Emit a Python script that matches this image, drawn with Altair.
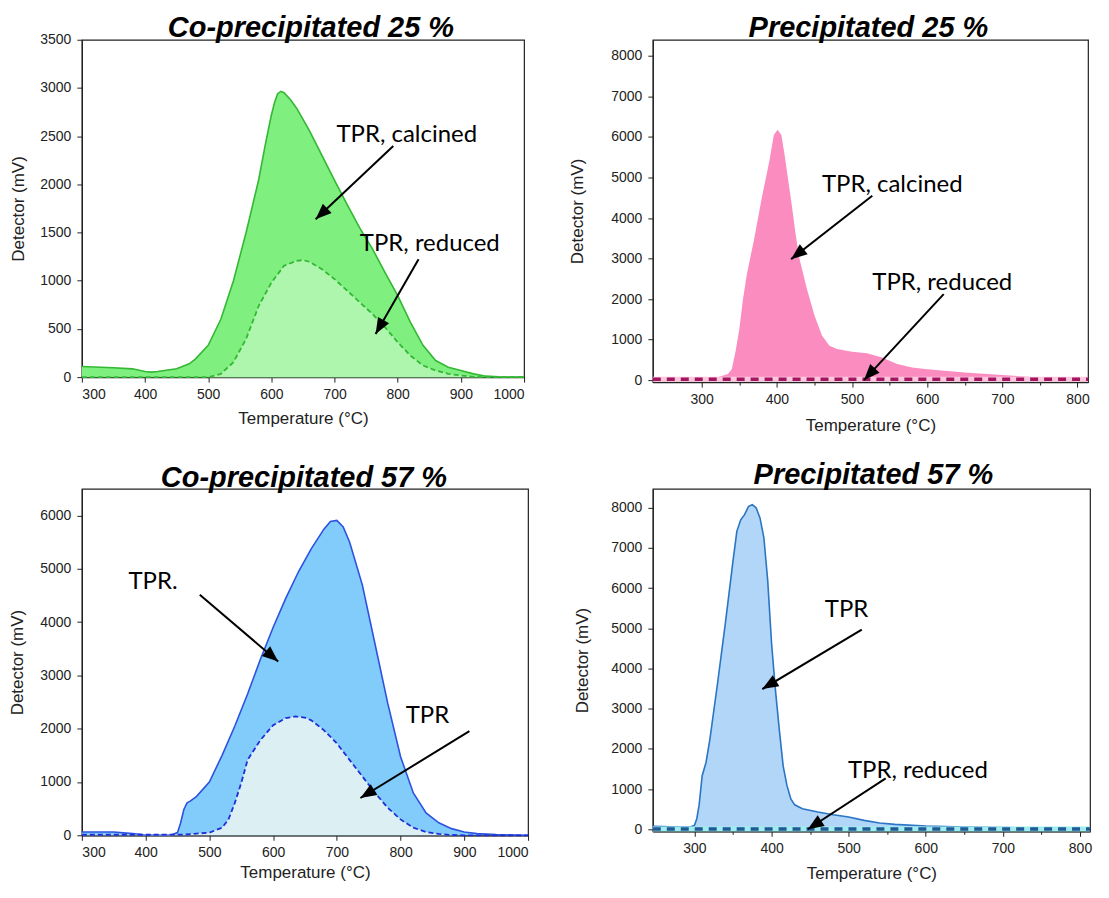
import math
import altair as alt
import pandas as pd

# ---------------- data ----------------
# Panel A: Co-precipitated 25 %
A_T_CAL = [300, 350, 380, 400, 410, 420, 450, 470, 480, 500, 520, 540, 560, 580, 590, 600, 605, 610, 615, 620,
           630, 640, 660, 680, 700, 720, 740, 760, 780, 800, 820, 840, 860, 880, 900, 920, 940, 960, 1000]
A_CAL = [110, 97, 86, 59, 52, 59, 86, 138, 190, 330, 600, 1000, 1500, 2050, 2400, 2720, 2850, 2940, 2965, 2950,
         2880, 2790, 2560, 2300, 2040, 1790, 1545, 1330, 1085, 845, 570, 330, 172, 103, 69, 34, 10, 3, 0]
A_T_RED = [300, 400, 500, 520, 540, 560, 580, 600, 620, 640, 650, 660, 680, 700, 720, 740, 760, 780, 800, 820,
           840, 860, 880, 900, 920, 940, 1000]
A_RED = [0, 0, 0, 34, 155, 397, 740, 980, 1155, 1207, 1214, 1197, 1120, 1017, 897, 776, 655, 517, 362, 224,
         121, 69, 34, 17, 3, 0, 0]

# Panel B: Precipitated 25 %
B_T_CAL = [235, 300, 320, 335, 340, 345, 350, 355, 360, 370, 380, 390, 396, 401, 406, 410, 415, 420, 425, 430,
           440, 450, 460, 470, 480, 500, 520, 540, 560, 580, 600, 650, 700, 750, 800, 814]
B_CAL = [25, 50, 66, 150, 270, 700, 1250, 2000, 2600, 3500, 4500, 5400, 6050, 6180, 6050, 5600, 4950, 4300, 3600, 3000,
         2250, 1600, 1100, 850, 770, 700, 660, 560, 395, 310, 270, 190, 125, 65, 50, 50]
B_T_RED = [235, 300, 400, 500, 600, 700, 814]
B_RED = [20, 20, 20, 20, 20, 20, 20]

# Panel C: Co-precipitated 57 %
C_T_CAL = [300, 350, 380, 400, 440, 450, 455, 460, 465, 470, 480, 500, 520, 540, 560, 580, 600, 620, 640, 660,
           680, 690, 700, 710, 720, 740, 760, 780, 800, 820, 840, 860, 880, 900, 920, 950, 1000]
C_CAL = [62, 62, 31, 6, 6, 50, 235, 484, 608, 640, 730, 1000, 1500, 2050, 2650, 3300, 3900, 4450, 4950, 5380,
         5750, 5890, 5910, 5785, 5505, 4700, 3585, 2470, 1475, 795, 420, 235, 125, 62, 31, 12, 0]
C_T_RED = [300, 400, 460, 480, 500, 520, 530, 540, 550, 560, 580, 600, 620, 635, 650, 660, 680, 700, 720, 740,
           760, 780, 800, 820, 840, 860, 880, 900, 1000]
C_RED = [10, 10, 12, 31, 50, 143, 298, 608, 980, 1415, 1785, 2065, 2200, 2230, 2207, 2157, 1970, 1725, 1415, 1105,
         795, 515, 298, 143, 62, 25, 6, 0, 0]

# Panel D: Precipitated 57 %
D_T_CAL = [246, 280, 295, 300, 303, 306, 310, 315, 320, 330, 340, 350, 355, 360, 365, 370, 375, 380, 385, 390,
           395, 400, 405, 410, 415, 420, 425, 430, 440, 460, 480, 500, 520, 540, 560, 600, 650, 700, 750, 800, 813]
D_CAL = [74, 58, 58, 99, 263, 593, 1333, 1663, 2240, 3640, 5120, 6680, 7420, 7700, 7830, 8030, 8080, 8000, 7750, 7260,
         6190, 4630, 3470, 2485, 1580, 1085, 757, 609, 510, 428, 362, 305, 222, 156, 123, 82, 58, 41, 33, 33, 33]
D_T_RED = [246, 300, 400, 500, 600, 700, 813]
D_RED = [10, 10, 10, 10, 10, 10, 10]

# annotation labels (text, T at left edge, mV at middle)
A_NOTES = [("TPR, calcined", 703, 2510), ("TPR, reduced", 740, 1380)]
B_NOTES = [("TPR, calcined", 460, 4810), ("TPR, reduced", 527, 2390)]
C_NOTES = [("TPR.", 373, 4760), ("TPR", 808, 2230)]
D_NOTES = [("TPR", 469, 5460), ("TPR, reduced", 499, 1460)]

# arrows (T start, mV start, T tip, mV tip)
A_ARROWS = [(793, 2397, 670, 1638), (833, 1224, 765, 448)]
B_ARROWS = [(527, 4548, 419, 2985), (622, 2122, 516, 0)]
C_ARROWS = [(485, 4513, 608, 3261), (908, 1953, 737, 700)]
D_ARROWS = [(517, 4971, 388, 3490), (548, 1267, 447, 0)]

# axis tick values (major + minor), each list starting on a labelled major tick
A_XTICKS = list(range(300, 1001, 50))
A_YTICKS = list(range(0, 3501, 250))
B_XTICKS = list(range(300, 801, 50))
B_YTICKS = list(range(0, 8001, 500))
C_XTICKS = list(range(300, 1001, 50))
C_YTICKS = list(range(0, 6501, 500))
D_XTICKS = list(range(300, 801, 50))
D_YTICKS = list(range(0, 8001, 500))

HEAD = "M0,0 L-0.8,2 L0.8,2 Z"


def make_axis(values, major, tx, ty, pad):
    return alt.Axis(
        values=values,
        format="d",
        labelExpr=f"datum.value % {major} === 0 ? datum.label : ''",
        tickSize={"condition": {"test": f"datum.value % {major} === 0", "value": 5}, "value": 3},
        labelOverlap=False,
        labelPadding=pad,
        grid=False,
        titleX=tx,
        titleY=ty,
    )


def panel(title, tdx, toff, T_cal, cal, T_red, red, xdom, ydom, xticks, yticks, xmaj, ymaj, w, h,
          cal_fill, cal_line, red_fill, red_line, red_style, notes, arrows, ytx, xty):
    xs = alt.Scale(domain=xdom, nice=False, zero=False)
    ys = alt.Scale(domain=ydom, nice=False, zero=False)
    xt = "Temperature (°C)"
    yt = "Detector (mV)"
    cal_df = pd.DataFrame({"T": T_cal, "v": cal})
    red_df = pd.DataFrame({"T": T_red, "v": red})

    base_x = alt.X("T:Q", scale=xs, title=xt, axis=make_axis(xticks, xmaj, w / 2, xty, 5))
    base_y = alt.Y("v:Q", scale=ys, title=yt, axis=make_axis(yticks, ymaj, ytx, h / 2, 6))
    nx = alt.X("T:Q", title=xt)
    ny = alt.Y("v:Q", title=yt)

    layers = []
    layers.append(alt.Chart(cal_df).mark_area(color=cal_fill, opacity=1).encode(
        x=base_x, y=base_y, y2=alt.datum(0)))
    if cal_line:
        layers.append(alt.Chart(cal_df).mark_line(color=cal_line, strokeWidth=1.6).encode(x=nx, y=ny))
    if red_style == "area":
        layers.append(alt.Chart(red_df).mark_area(color=red_fill, opacity=1).encode(
            x=nx, y=ny, y2=alt.datum(0)))
        layers.append(alt.Chart(red_df).mark_line(color=red_line, strokeWidth=1.8,
                                                  strokeDash=[5, 3]).encode(x=nx, y=ny))
    else:
        layers.append(alt.Chart(red_df).mark_line(color=red_fill, strokeWidth=5).encode(x=nx, y=ny))
        layers.append(alt.Chart(red_df).mark_line(color=red_line, strokeWidth=3.5,
                                                  strokeDash=[8, 6]).encode(x=nx, y=ny))

    pxT = w / (xdom[1] - xdom[0])
    pxV = h / (ydom[1] - ydom[0])
    arr = []
    for (x0, y0, x1, y1) in arrows:
        dx = (x1 - x0) * pxT
        dy = -(y1 - y0) * pxV
        ang = math.degrees(math.atan2(dx, -dy)) % 360
        arr.append({"x0": x0, "y0": y0, "x1": x1, "y1": y1, "ang": ang})
    arr_df = pd.DataFrame(arr)
    layers.append(alt.Chart(arr_df).mark_rule(color="black", strokeWidth=2).encode(
        x=alt.X("x0:Q", title=xt),
        y=alt.Y("y0:Q", title=yt),
        x2="x1:Q", y2="y1:Q"))
    layers.append(alt.Chart(arr_df).mark_point(shape=HEAD, filled=True, color="black", opacity=1,
                                               size=256, strokeWidth=0).encode(
        x=alt.X("x1:Q", title=xt),
        y=alt.Y("y1:Q", title=yt),
        angle=alt.Angle("ang:Q", scale=None)))
    note_df = pd.DataFrame(notes, columns=["label", "tx", "ty"])
    layers.append(alt.Chart(note_df).mark_text(align="left", baseline="middle", font="Lato",
                                               fontSize=24, color="black").encode(
        x=alt.X("tx:Q", title=xt),
        y=alt.Y("ty:Q", title=yt),
        text="label:N"))

    return alt.layer(*layers).properties(
        width=w, height=h,
        title=alt.TitleParams(title, font="Liberation Sans", fontSize=29, fontWeight="bold",
                              fontStyle="italic", color="black", anchor="middle", offset=toff,
                              dx=tdx))


pA = panel("Co-precipitated 25 %", 8, -10, A_T_CAL, A_CAL, A_T_RED, A_RED, [300, 1000], [0, 3500],
           A_XTICKS, A_YTICKS, 100, 500, 443, 338,
           "#7FEF7F", "#33B833", "#AEF6AE", "#33B833", "area", A_NOTES, A_ARROWS, -54, 33)
pB = panel("Precipitated 25 %", -2, -3, B_T_CAL, B_CAL, B_T_RED, B_RED, [235, 814], [-50, 8400],
           B_XTICKS, B_YTICKS, 100, 1000, 436, 343,
           "#FA8CC0", None, "#FBC8DE", "#A3155F", "band", B_NOTES, B_ARROWS, -66, 35)
pC = panel("Co-precipitated 57 %", -1, -4, C_T_CAL, C_CAL, C_T_RED, C_RED, [300, 1000], [0, 6500],
           C_XTICKS, C_YTICKS, 100, 1000, 447, 347,
           "#82CCFC", "#2D52E0", "#DCF0F4", "#1F2FD8", "area", C_NOTES, C_ARROWS, -55, 29)
pD = panel("Precipitated 57 %", 2, -1, D_T_CAL, D_CAL, D_T_RED, D_RED, [246, 813], [-50, 8470],
           D_XTICKS, D_YTICKS, 100, 1000, 438, 343,
           "#B1D6F8", "#2A75C4", "#9FEDEE", "#215A96", "band", D_NOTES, D_ARROWS, -61, 34)

chart = alt.concat(pA, pB, pC, pD, columns=2, spacing={"row": 107, "column": 125},
                   bounds="flush", align="each").properties(
    padding={"left": 0, "top": 4, "right": 0, "bottom": 0}
).configure_view(stroke="#222", strokeWidth=1.2).configure_axis(
    labelFont="Liberation Sans", labelFontSize=14, labelColor="#222",
    titleFont="Liberation Sans", titleFontSize=17, titleFontWeight="normal", titleColor="#222",
    domainColor="#222", tickColor="#222", domainWidth=1.2
)

chart.save("out.html", embed_options={"renderer": "svg", "actions": False})
